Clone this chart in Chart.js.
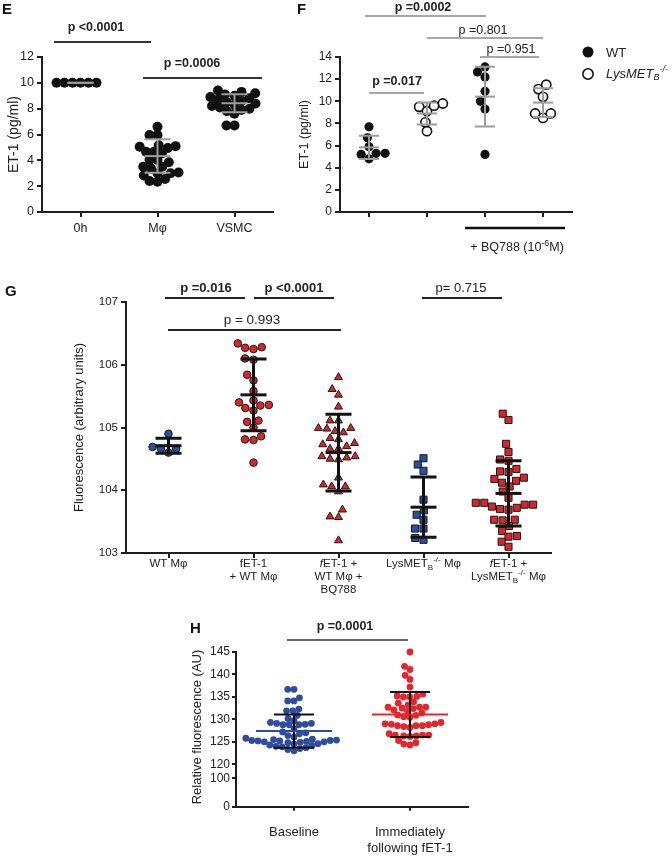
<!DOCTYPE html>
<html><head><meta charset="utf-8">
<script src="https://cdn.jsdelivr.net/npm/chart.js@4.4.1/dist/chart.umd.min.js"></script>
<style>
html,body{margin:0;padding:0;background:#fff;}
#wrap{position:relative;width:672px;height:857px;overflow:hidden;background:#fff;}
canvas{position:absolute;}
</style></head><body><div id="wrap">
<canvas id="cE" width="290" height="270" style="left:0px;top:0px"></canvas>
<canvas id="cF" width="382" height="270" style="left:290px;top:0px"></canvas>
<canvas id="cG" width="672" height="330" style="left:0px;top:270px"></canvas>
<canvas id="cH1" width="400" height="257" style="left:150px;top:600px"></canvas>
<canvas id="cH2" width="400" height="97" style="left:150px;top:760px"></canvas>
</div>
<script>
// ================= DATA =================
// Panel E
const eCategories = ['0h', 'Mφ', 'VSMC'];
const eZeroHour = [10, 10, 10, 10, 10, 10];
const eMacrophage = [5.96, 6.6, 5.96, 5.05, 5.17, 5.1, 4.95, 4.54, 4.67, 4.67, 4.02, 4.02, 3.85, 3.5, 3.37, 3.5, 3.0, 3.0, 3.06, 2.83, 2.55, 2.35, 2.4];
const eVSMC = [9.4, 9.3, 9.2, 9.1, 9.0, 8.9, 8.8, 8.7, 8.6, 8.5, 8.4, 8.3, 8.2, 8.1, 8.0, 7.9, 7.8, 7.6, 6.7, 6.7];
const eMean = [10, 4.33, 8.42];
const eSD = [0, 1.3, 0.7];
const eYTicks = [0, 2, 4, 6, 8, 10, 12];

// Panel F
const fGroups = ['WT', 'LysMETB-/-', 'WT + BQ788', 'LysMETB-/- + BQ788'];
const fWT = [7.7, 6.7, 5.9, 5.3, 5.2, 5.3, 4.8];
const fKO = [9.8, 9.5, 9.1, 9.6, 8.1, 7.3];
const fWTBQ = [12.65, 13.1, 12.2, 10.9, 10.0, 9.3, 5.2];
const fKOBQ = [11.1, 11.5, 10.4, 8.9, 8.5, 8.9];
const fMean = [5.84, 8.9, 10.42, 9.88];
const fSD = [1.05, 1.0, 2.7, 1.3];
const fYTicks = [0, 2, 4, 6, 8, 10, 12, 14];

// Panel G
const gCategories = ['WT Mφ', 'fET-1\n+ WT Mφ', '*{f}ET-1 +\nWT Mφ +\nBQ788', 'LysMET_{B}^{-/-} Mφ', '*{f}ET-1 +\nLysMET_{B}^{-/-} Mφ'];
const gWT = [104.9, 104.66, 104.6, 104.66, 104.69];
const gFET = [106.34, 106.27, 106.25, 106.28, 106.08, 106.10, 105.84, 105.75, 105.58, 105.43, 105.36, 105.31, 105.27, 105.35, 105.40, 105.09, 105.11, 105.0, 104.81, 104.80, 104.86, 104.44];
const gFETBQ = [105.8, 105.61, 105.52, 105.33, 105.11, 105.11, 104.99, 104.98, 104.99, 104.92, 104.94, 104.83, 104.81, 104.75, 104.73, 104.70, 104.66, 104.66, 104.54, 104.54, 104.50, 104.52, 104.49, 104.2, 104.09, 104.06, 104.06, 103.98, 103.69, 103.58, 103.57, 103.2];
const gKO = [104.51, 104.41, 104.31, 103.85, 103.68, 103.61, 103.53, 103.39, 103.39, 103.21, 103.24];
const gFETKO = [105.22, 105.12, 104.74, 104.61, 104.49, 104.47, 104.34, 104.29, 104.30, 104.18, 104.12, 104.15, 104.20, 104.06, 103.98, 103.88, 103.77, 103.80, 103.80, 103.74, 103.70, 103.69, 103.72, 103.77, 103.53, 103.53, 103.52, 103.43, 103.35, 103.26, 103.27, 103.18, 103.10];
const gMean = [104.71, 105.52, 104.6, 103.73, 103.95];
const gSD = [0.12, 0.57, 0.61, 0.48, 0.52];
const gYTicks = [103, 104, 105, 106, 107];

// Panel H
const hCategories = [['Baseline'], ['Immediately', 'following fET-1']];
const hBaseline = [136.7, 136.7, 134.8, 134.1, 134.1, 132.3, 131.9, 131.9, 130.9, 130.2, 129.7, 129.3, 129.1, 129.1, 128.9, 128.8, 128.8, 128.8, 127.9, 127.2, 127.0, 126.8,
  126.4, 126.1, 125.8, 125.6, 125.5, 125.4, 125.3, 125.3, 125.2, 125.2, 125.1, 125.0, 125.0, 124.9, 124.8, 124.6, 124.5, 124.3, 124.2, 124.0, 123.9, 123.7, 123.5, 123.3, 123.0];
const hFollowing = [145.0, 141.8, 141.1, 139.8, 138.9, 137.2, 135.6, 135.0, 135.1, 135.0, 135.2, 133.9, 132.4, 132.7, 133.2, 132.7, 133.6, 132.7, 132.5, 132.1, 130.6, 131.0, 130.9, 131.4, 131.8, 130.5,
  129.0, 129.0, 129.3, 128.4, 128.6, 128.2, 128.6, 128.6, 128.8, 128.9, 126.5, 126.3, 126.2, 126.5, 126.3, 126.5, 126.8, 124.8, 124.3, 124.5, 125.3];
const hMean = [127.4, 131.1];
const hSD = [3.7, 5.0];
const hYTicksUpper = [120, 125, 130, 135, 140, 145];
const hYTicksLower = [0, 100];

// ================= HELPERS =================
const FONT = "'Liberation Sans', Arial, Helvetica, sans-serif";
Chart.defaults.font.family = FONT;
Chart.defaults.color = '#222';
const AX = '#1e1e1e';

function parseRich(s) {
  const segs = []; let i = 0, buf = '';
  while (i < s.length) {
    const c = s[i];
    if ((c === '_' || c === '^' || c === '*') && s[i + 1] === '{') {
      if (buf) { segs.push({ t: buf }); buf = ''; }
      const end = s.indexOf('}', i + 2);
      segs.push({ t: s.slice(i + 2, end), m: c });
      i = end + 1;
    } else { buf += c; i++; }
  }
  if (buf) segs.push({ t: buf });
  return segs;
}
function drawRich(ctx, s, x, y, o) {
  const segs = parseRich(s);
  const fontFor = sg => {
    const sz = (sg.m === '_' || sg.m === '^') ? o.size * 0.7 : o.size;
    const it = o.italic || sg.m === '*';
    return (it ? 'italic ' : '') + (o.bold ? 'bold ' : '') + sz + 'px ' + FONT;
  };
  let w = 0;
  segs.forEach(sg => { ctx.font = fontFor(sg); sg.w = ctx.measureText(sg.t).width; w += sg.w; });
  let cx = o.align === 'left' ? x : (o.align === 'right' ? x - w : x - w / 2);
  ctx.textBaseline = 'middle'; ctx.textAlign = 'left'; ctx.fillStyle = o.color || '#222';
  segs.forEach(sg => {
    ctx.font = fontFor(sg);
    const dy = sg.m === '_' ? o.size * 0.3 : (sg.m === '^' ? -o.size * 0.38 : 0);
    ctx.fillText(sg.t, cx, y + dy); cx += sg.w;
  });
}
function line(ctx, x1, y1, x2, y2, color, w) {
  ctx.strokeStyle = color; ctx.lineWidth = w; ctx.beginPath(); ctx.moveTo(x1, y1); ctx.lineTo(x2, y2); ctx.stroke();
}
function annot(ox, oy, fn) {
  return { id: 'annot', afterDraw(chart) { const ctx = chart.ctx; ctx.save(); ctx.translate(-ox, -oy); fn(ctx, chart); ctx.restore(); } };
}
function errBars(means, sds, cfg) {
  return {
    id: 'err', afterDatasetsDraw(chart) {
      const { ctx, scales: { x, y } } = chart; ctx.save(); ctx.lineWidth = cfg.width; ctx.lineCap = 'butt';
      means.forEach((m, i) => {
        const px = x.getPixelForValue(i), pm = y.getPixelForValue(m);
        const pt = y.getPixelForValue(m + sds[i]), pb = y.getPixelForValue(m - sds[i]);
        ctx.strokeStyle = cfg.color; ctx.beginPath();
        ctx.moveTo(px, pt); ctx.lineTo(px, pb);
        ctx.moveTo(px - cfg.cap, pt); ctx.lineTo(px + cfg.cap, pt);
        ctx.moveTo(px - cfg.cap, pb); ctx.lineTo(px + cfg.cap, pb);
        ctx.stroke();
        ctx.strokeStyle = cfg.meanColors ? cfg.meanColors[i] : cfg.color;
        ctx.beginPath(); ctx.moveTo(px - cfg.mean, pm); ctx.lineTo(px + cfg.mean, pm); ctx.stroke();
      });
      ctx.restore();
    }
  };
}
function swarm(vals, ys, xs, D) {
  const pys = vals.map(v => ys.getPixelForValue(v));
  const order = pys.map((p, i) => i).sort((a, b) => pys[b] - pys[a]);
  const placed = [], dxs = new Array(vals.length);
  for (const i of order) {
    const py = pys[i], iv = [];
    for (const p of placed) {
      const dy = py - p.py;
      if (Math.abs(dy) < D) { const w = Math.sqrt(D * D - dy * dy); iv.push([p.dx - w, p.dx + w]); }
    }
    const c = [0]; iv.forEach(([a, b]) => c.push(a, b));
    c.sort((a, b) => (Math.abs(a) - Math.abs(b)) || (a - b));
    let best = 0;
    for (const v of c) { if (iv.every(([a, b]) => v <= a + 1e-6 || v >= b - 1e-6)) { best = v; break; } }
    dxs[i] = best; placed.push({ py, dx: best });
  }
  const unit = xs.getPixelForValue(1) - xs.getPixelForValue(0);
  return dxs.map(d => d / unit);
}
function pts(vals, g, style) {
  return Object.assign({ data: vals.map(v => ({ x: g, y: v })), clip: false }, style);
}
function xCat(n, h, o) {
  return {
    type: 'linear', min: -0.5, max: n - 0.5, display: o.display !== false,
    afterBuildTicks: s => { s.ticks = Array.from({ length: n }, (_, i) => ({ value: i })); },
    afterFit: s => { s.height = h; },
    grid: { display: true, drawOnChartArea: false, drawTicks: true, tickLength: o.tl || 5, color: AX, lineWidth: 2 },
    border: { display: true, color: AX, width: 2 },
    ticks: { callback: o.cb || (() => ''), font: { size: o.size || 12 }, color: '#222', padding: o.pad || 3, maxRotation: 0, autoSkip: false }
  };
}
function yLin(min, max, tv, w, o) {
  return {
    type: 'linear', min, max,
    afterBuildTicks: s => { s.ticks = tv.map(v => ({ value: v })); },
    afterFit: s => { s.width = w; },
    grid: { display: true, drawOnChartArea: false, drawTicks: true, tickLength: o.tl || 5, color: AX, lineWidth: 2 },
    border: { display: true, color: AX, width: 2 },
    ticks: { font: { size: o.size || 12 }, color: '#222', padding: o.pad || 3 },
    title: o.title ? { display: true, text: o.title, font: { size: o.tsize || 13 }, color: '#222', padding: { top: o.tpad || 0, bottom: 0 } } : { display: false }
  };
}
function makeChart(id, datasets, x, y, padding, D, plugins) {
  const chart = new Chart(document.getElementById(id), {
    type: 'scatter', data: { datasets },
    options: { responsive: false, maintainAspectRatio: false, animation: false, events: [],
      layout: { padding }, plugins: { legend: { display: false }, tooltip: { enabled: false } }, scales: { x, y } },
    plugins
  });
  chart.data.datasets.forEach(ds => {
    if (!ds.data.length) return;
    const vals = ds.data.map(p => p.y), g = ds.data[0].x;
    const offs = swarm(vals, chart.scales.y, chart.scales.x, D);
    ds.data = vals.map((v, j) => ({ x: g + offs[j], y: v }));
  });
  chart.update('none');
  return chart;
}

// ================= PANEL E =================
const blackDot = { pointRadius: 5, pointBackgroundColor: '#111', pointBorderWidth: 0, pointBorderColor: '#111' };
makeChart('cE',
  [pts(eZeroHour, 0, blackDot), pts(eMacrophage, 1, blackDot), pts(eVSMC, 2, blackDot)],
  xCat(3, 58, { cb: v => eCategories[v], size: 12.5, pad: 4 }),
  yLin(0, 12, eYTicks, 42, { size: 12.5, title: 'ET-1 (pg/ml)', tsize: 14, tpad: 6 }),
  { top: 57, right: 17, left: 0, bottom: 0 }, 8,
  [errBars(eMean, eSD, { color: '#9c9c9c', width: 2, cap: 13, mean: 13 }),
   annot(0, 0, ctx => {
     drawRich(ctx, 'E', 2, 10, { size: 15, bold: true, align: 'left', color: '#111' });
     drawRich(ctx, 'p <0.0001', 96, 28, { size: 12.5, bold: true });
     drawRich(ctx, 'p =0.0006', 192, 64, { size: 12.5, bold: true });
     line(ctx, 54, 42, 151, 42, '#333', 2);
     line(ctx, 143, 78, 262, 78, '#333', 2);
   })]);

// ================= PANEL F =================
const fFilled = { pointRadius: 4.6, pointBackgroundColor: '#111', pointBorderWidth: 0, pointBorderColor: '#111' };
const fOpen = { pointRadius: 4.6, pointBackgroundColor: '#fff', pointBorderWidth: 1.6, pointBorderColor: '#111' };
makeChart('cF',
  [pts(fWT, 0, fFilled), pts(fKO, 1, fOpen), pts(fWTBQ, 2, fFilled), pts(fKOBQ, 3, fOpen)],
  xCat(4, 58, {}),
  yLin(0, 14, fYTicks, 50, { size: 12, title: 'ET-1 (pg/ml)', tsize: 12.5, tpad: 7.5 }),
  { top: 57, right: 100, left: 0, bottom: 0 }, 9,
  [errBars(fMean, fSD, { color: '#9c9c9c', width: 2, cap: 10, mean: 10 }),
   annot(290, 0, ctx => {
     drawRich(ctx, 'F', 297, 10, { size: 15, bold: true, align: 'left', color: '#111' });
     drawRich(ctx, 'p =0.0002', 423, 8, { size: 12.5, bold: true });
     drawRich(ctx, 'p =0.801', 483, 31, { size: 12.5 });
     drawRich(ctx, 'p =0.951', 511, 50, { size: 12.5 });
     drawRich(ctx, 'p =0.017', 397, 82, { size: 12.5, bold: true });
     line(ctx, 365, 16, 486, 16, '#8a8a8a', 1.5);
     line(ctx, 427, 38, 543, 38, '#8a8a8a', 1.5);
     line(ctx, 480, 57, 539, 57, '#8a8a8a', 1.5);
     line(ctx, 369, 93, 424, 93, '#8a8a8a', 1.5);
     line(ctx, 465, 228, 565, 228, '#111', 2.5);
     drawRich(ctx, '+ BQ788 (10^{-6}M)', 517, 248, { size: 12.5 });
     // legend
     ctx.fillStyle = '#111'; ctx.beginPath(); ctx.arc(588, 52, 5.5, 0, Math.PI * 2); ctx.fill();
     ctx.fillStyle = '#fff'; ctx.strokeStyle = '#111'; ctx.lineWidth = 1.6;
     ctx.beginPath(); ctx.arc(588, 74, 5.2, 0, Math.PI * 2); ctx.fill(); ctx.stroke();
     drawRich(ctx, fGroups[0], 606, 53, { size: 13, align: 'left' });
     drawRich(ctx, 'LysMET_{B}^{-/-}', 606, 74, { size: 13, align: 'left', italic: true });
   })]);

// ================= PANEL G =================
const gBlue = '#2d4e9e', gRed = '#d6262c';
const gCircB = { pointStyle: 'circle', pointRadius: 3.8, pointBackgroundColor: gBlue, pointBorderColor: '#1a1a1a', pointBorderWidth: 1 };
const gCircR = { pointStyle: 'circle', pointRadius: 3.8, pointBackgroundColor: gRed, pointBorderColor: '#1a1a1a', pointBorderWidth: 1 };
const gTriR = { pointStyle: 'triangle', pointRadius: 4.6, pointBackgroundColor: gRed, pointBorderColor: '#1a1a1a', pointBorderWidth: 1 };
const gSqB = { pointStyle: 'rect', pointRadius: 5, pointBackgroundColor: gBlue, pointBorderColor: '#1a1a1a', pointBorderWidth: 1 };
const gSqR = { pointStyle: 'rect', pointRadius: 5, pointBackgroundColor: gRed, pointBorderColor: '#1a1a1a', pointBorderWidth: 1 };
makeChart('cG',
  [pts(gWT, 0, gCircB), pts(gFET, 1, gCircR), pts(gFETBQ, 2, gTriR), pts(gKO, 3, gSqB), pts(gFETKO, 4, gSqR)],
  xCat(5, 47, {}),
  yLin(103, 107, gYTicks, 126, { size: 11.5, title: 'Fluorescence (arbitrary units)', tsize: 13, tpad: 72 }),
  { top: 32, right: 121, left: 0, bottom: 0 }, 8.5,
  [errBars(gMean, gSD, { color: '#111', width: 3, cap: 13, mean: 13 }),
   annot(0, 270, (ctx, chart) => {
     const xs = chart.scales.x;
     gCategories.forEach((lab, i) => {
       const px = xs.getPixelForValue(i);
       lab.split('\n').forEach((ln, k) => drawRich(ctx, ln, px, 564 + k * 13, { size: 11.5 }));
     });
     drawRich(ctx, 'G', 5, 292, { size: 15, bold: true, align: 'left', color: '#111' });
     drawRich(ctx, 'p =0.016', 206, 288, { size: 13, bold: true });
     drawRich(ctx, 'p <0.0001', 294, 288, { size: 13, bold: true });
     drawRich(ctx, 'p = 0.993', 252, 320, { size: 13.5 });
     drawRich(ctx, 'p= 0.715', 461, 288, { size: 13 });
     line(ctx, 165, 298, 245, 298, '#222', 2);
     line(ctx, 254, 298, 334, 298, '#222', 2);
     line(ctx, 168, 330, 341, 330, '#222', 2);
     line(ctx, 422, 298, 502, 298, '#222', 2);
   })]);

// ================= PANEL H =================
const hBlue = { pointRadius: 3.4, pointBackgroundColor: '#2f4d9f', pointBorderWidth: 0 };
const hRed = { pointRadius: 3.4, pointBackgroundColor: '#e3262b', pointBorderWidth: 0 };
makeChart('cH1',
  [pts(hBaseline, 0, hBlue), pts(hFollowing, 1, hRed)],
  xCat(2, 0, { display: false }),
  yLin(120, 145, hYTicksUpper, 86, { size: 12, tl: 4, pad: 2 }),
  { top: 52, right: 82, left: 0, bottom: 92.7 }, 6.3,
  [errBars(hMean, hSD, { color: '#111', width: 2, cap: 20, mean: 38, meanColors: ['#2f4d9f', '#e3262b'] }),
   annot(150, 600, ctx => {
     drawRich(ctx, 'H', 190, 629, { size: 15, bold: true, align: 'left', color: '#111' });
     drawRich(ctx, 'p =0.0001', 345, 627, { size: 12.5, bold: true });
     line(ctx, 287, 640, 408, 640, '#333', 1.5);
     ctx.save(); ctx.translate(197, 727); ctx.rotate(-Math.PI / 2);
     drawRich(ctx, 'Relative fluorescence (AU)', 0, 0, { size: 13 });
     ctx.restore();
   })]);
makeChart('cH2',
  [],
  xCat(2, 50.3, { cb: v => hCategories[v], size: 13, pad: 14, tl: 4 }),
  yLin(0, 100, hYTicksLower, 86, { size: 12, tl: 4, pad: 2 }),
  { top: 18.3, right: 82, left: 0, bottom: 0 }, 6.3,
  [annot(150, 760, ctx => { line(ctx, 236, 764, 236, 779, AX, 2); })]);
</script>
</body></html>
